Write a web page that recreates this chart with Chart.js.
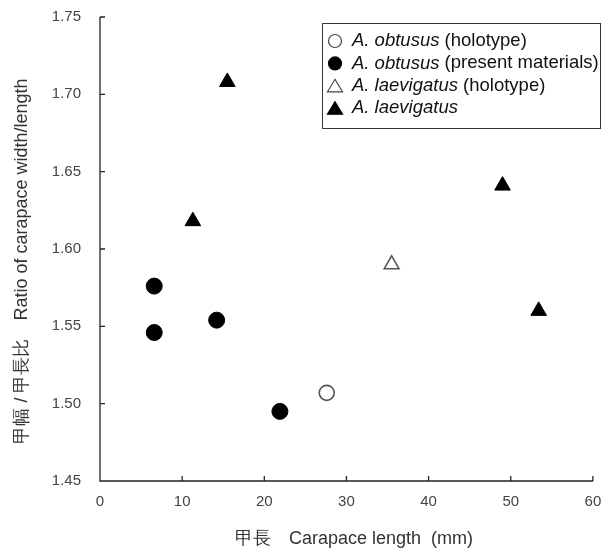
<!DOCTYPE html>
<html>
<head>
<meta charset="utf-8">
<script src="https://cdn.jsdelivr.net/npm/chart.js@4.4.1/dist/chart.umd.min.js"></script>
<style>
  html, body { margin: 0; padding: 0; background: #fff; }
  #wrap { width: 603px; height: 552px; }
</style>
</head>
<body>
<div id="wrap"><canvas id="scatterChart" width="603" height="552"></canvas></div>
<script>
// values: carapace length (mm) and width/length ratio
const obtususHoloX = [27.6];
const obtususHoloY = [1.507];
const obtususX = [6.6, 6.6, 14.2, 21.9];
const obtususY = [1.576, 1.546, 1.554, 1.495];
const laevHoloX = [35.5];
const laevHoloY = [1.590];
const laevX = [15.5, 11.3, 49.0, 53.4];
const laevY = [1.708, 1.618, 1.641, 1.560];

const xTicks = [0, 10, 20, 30, 40, 50, 60];
const yTicks = [1.45, 1.50, 1.55, 1.60, 1.65, 1.70, 1.75];

const yTitle = '甲幅 / 甲長比　Ratio of carapace width/length';
const xTitle = '甲長　Carapace length  (mm)';

const legendItems = [
  { style: 'circle', fill: '#fff', stroke: '#444', italic: 'A. obtusus', rest: ' (holotype)' },
  { style: 'circle', fill: '#000', stroke: '#000', italic: 'A. obtusus', rest: ' (present materials)' },
  { style: 'triangle', fill: '#fff', stroke: '#444', italic: 'A. laevigatus', rest: ' (holotype)' },
  { style: 'triangle', fill: '#000', stroke: '#000', italic: 'A. laevigatus', rest: '' }
];

function toPoints(xs, ys) {
  return xs.map((x, i) => ({ x: x, y: ys[i] }));
}

const FONT = '"Liberation Sans", Arial, sans-serif';
const AXIS = '#222';

// inward ticks + axis lines, drawn from the scales
const axisPlugin = {
  id: 'axisLines',
  afterDraw(chart) {
    const c = chart.ctx;
    const xs = chart.scales.x, ys = chart.scales.y;
    const a = chart.chartArea;
    c.save();
    c.strokeStyle = AXIS;
    c.lineWidth = 1.3;
    c.beginPath();
    c.moveTo(a.left, a.top);
    c.lineTo(a.left, a.bottom);
    c.lineTo(a.right, a.bottom);
    xTicks.forEach(v => {
      const px = xs.getPixelForValue(v);
      c.moveTo(px, a.bottom);
      c.lineTo(px, a.bottom - 5);
    });
    yTicks.forEach(v => {
      const py = ys.getPixelForValue(v);
      c.moveTo(a.left, py);
      c.lineTo(a.left + 5, py);
    });
    c.stroke();

    c.fillStyle = '#333';
    c.font = '18px ' + FONT;
    c.textAlign = 'center';
    c.textBaseline = 'middle';
    // x title, a little right of centre like the original
    c.fillText(xTitle, 354, 539);
    // y title, sits a bit below the middle
    c.translate(22, 261);
    c.rotate(-Math.PI / 2);
    c.fillText(yTitle, 0, 0);
    c.restore();
  }
};

// legend with italic species names
const legendPlugin = {
  id: 'boxLegend',
  afterDraw(chart) {
    const c = chart.ctx;
    const bx = 322, by = 23, bw = 278, bh = 105;
    c.save();
    c.fillStyle = '#fff';
    c.fillRect(bx, by, bw, bh);
    c.strokeStyle = '#333';
    c.lineWidth = 1;
    c.strokeRect(bx + 0.5, by + 0.5, bw, bh);
    c.textBaseline = 'middle';
    legendItems.forEach((it, i) => {
      const cy = by + 18 + i * 22.4;
      const mx = bx + 13;
      c.fillStyle = it.fill;
      c.strokeStyle = it.stroke;
      c.lineWidth = 1.2;
      c.beginPath();
      if (it.style === 'circle') {
        c.arc(mx, cy, 6.5, 0, Math.PI * 2);
      } else {
        c.moveTo(mx, cy - 6.5);
        c.lineTo(mx + 7.5, cy + 6);
        c.lineTo(mx - 7.5, cy + 6);
        c.closePath();
      }
      c.fill();
      c.stroke();
      let tx = bx + 30;
      c.fillStyle = '#111';
      c.font = 'italic 18.5px ' + FONT;
      c.fillText(it.italic, tx, cy);
      tx += c.measureText(it.italic).width;
      c.font = '18.5px ' + FONT;
      c.fillText(it.rest, tx, cy);
    });
    c.restore();
  }
};

const ctx = document.getElementById('scatterChart').getContext('2d');
new Chart(ctx, {
  type: 'scatter',
  data: {
    datasets: [
      {
        label: 'A. obtusus (holotype)',
        data: toPoints(obtususHoloX, obtususHoloY),
        pointStyle: 'circle',
        pointRadius: 7.5,
        backgroundColor: '#fff',
        borderColor: '#555',
        borderWidth: 1.6
      },
      {
        label: 'A. obtusus (present materials)',
        data: toPoints(obtususX, obtususY),
        pointStyle: 'circle',
        pointRadius: 8,
        backgroundColor: '#000',
        borderColor: '#000',
        borderWidth: 1
      },
      {
        label: 'A. laevigatus (holotype)',
        data: toPoints(laevHoloX, laevHoloY),
        pointStyle: 'triangle',
        pointRadius: 8.5,
        backgroundColor: '#fff',
        borderColor: '#555',
        borderWidth: 1.6
      },
      {
        label: 'A. laevigatus',
        data: toPoints(laevX, laevY),
        pointStyle: 'triangle',
        pointRadius: 9,
        backgroundColor: '#000',
        borderColor: '#000',
        borderWidth: 1
      }
    ]
  },
  options: {
    responsive: false,
    animation: false,
    layout: { padding: { top: 17, right: 6, left: 0, bottom: 0 } },
    plugins: {
      legend: { display: false },
      tooltip: { enabled: false }
    },
    scales: {
      x: {
        type: 'linear',
        min: 0,
        max: 60,
        afterBuildTicks: s => { s.ticks = xTicks.map(v => ({ value: v })); },
        afterFit: s => { s.height = 71; s.paddingLeft = 0; s.paddingRight = 0; },
        grid: { display: false, drawTicks: false },
        border: { display: false },
        ticks: {
          color: '#444',
          font: { family: FONT, size: 15 },
          padding: 12
        }
      },
      y: {
        type: 'linear',
        min: 1.45,
        max: 1.75,
        afterBuildTicks: s => { s.ticks = yTicks.map(v => ({ value: v })); },
        afterFit: s => { s.width = 100; s.paddingTop = 0; s.paddingBottom = 0; },
        grid: { display: false, drawTicks: false },
        border: { display: false },
        ticks: {
          color: '#444',
          font: { family: FONT, size: 15 },
          padding: 19,
          callback: v => v.toFixed(2)
        }
      }
    }
  },
  plugins: [axisPlugin, legendPlugin]
});
</script>
</body>
</html>
